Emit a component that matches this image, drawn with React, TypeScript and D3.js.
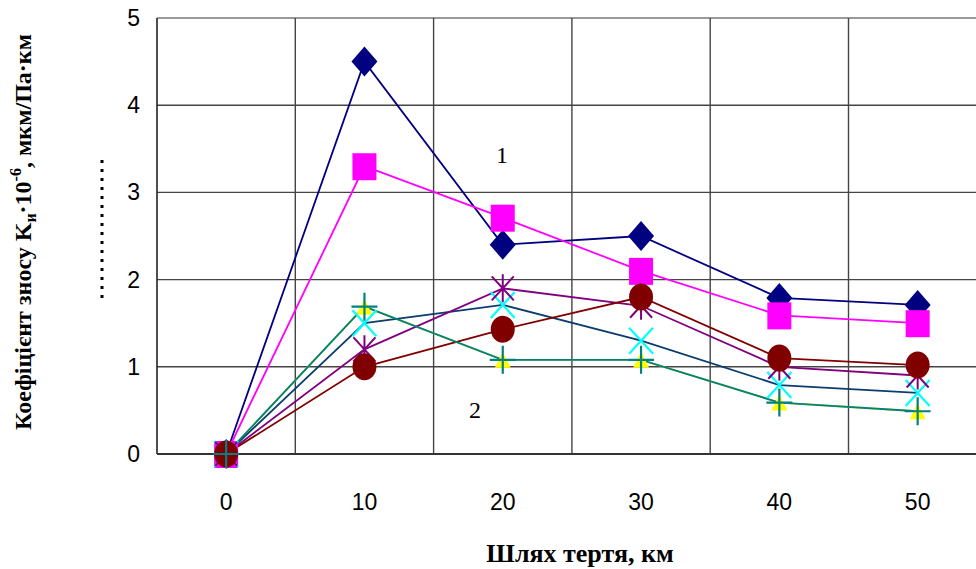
import React from "react";
import * as d3 from "d3";

const categories = ["0", "10", "20", "30", "40", "50"];
const yTicks = [0, 1, 2, 3, 4, 5];

const sDiamond = [0, 4.5, 2.4, 2.5, 1.79, 1.71];
const sSquare = [0, 3.3, 2.71, 2.1, 1.59, 1.5];
const sTriangle = [0, 1.69, 1.08, 1.08, 0.59, 0.49];
const sCross = [0, 1.5, 1.71, 1.3, 0.79, 0.7];
const sStar = [0, 1.2, 1.9, 1.7, 1.0, 0.9];
const sCircle = [0, 1.0, 1.43, 1.8, 1.1, 1.02];
const sPlus = [0, 1.69, 1.08, 1.08, 0.59, 0.49];

type Series = { values: number[]; line: string; marker: string; color: string };
const series: Series[] = [
  { values: sDiamond, line: "#000080", marker: "diamond", color: "#000080" },
  { values: sSquare, line: "#FF00FF", marker: "square", color: "#FF00FF" },
  { values: sTriangle, line: "#E8E800", marker: "triangle", color: "#FFFF00" },
  { values: sCross, line: "#0B3D6E", marker: "x", color: "#00FFFF" },
  { values: sStar, line: "#800080", marker: "star", color: "#800080" },
  { values: sCircle, line: "#800000", marker: "circle", color: "#800000" },
  { values: sPlus, line: "#008080", marker: "plus", color: "#008080" },
];

const W = 976;
const H = 569;
const left = 157;
const top = 18;
const bottom = 454;
const band = 138.3;
const right = left + band * categories.length;

function Marker({ type, cx, cy, color }: { type: string; cx: number; cy: number; color: string }) {
  switch (type) {
    case "diamond":
      return <path d={`M${cx},${cy - 15}L${cx + 13},${cy}L${cx},${cy + 15}L${cx - 13},${cy}Z`} fill={color} />;
    case "square":
      return <rect x={cx - 12} y={cy - 13} width={24} height={27} fill={color} />;
    case "triangle":
      return <path d={`M${cx},${cy - 8}L${cx + 8},${cy + 8}L${cx - 8},${cy + 8}Z`} fill={color} />;
    case "x":
      return (
        <path
          d={`M${cx - 12},${cy - 13}L${cx + 12},${cy + 13}M${cx + 12},${cy - 13}L${cx - 12},${cy + 13}`}
          stroke={color}
          strokeWidth={2.2}
        />
      );
    case "star":
      return (
        <path
          d={`M${cx - 11},${cy - 12}L${cx + 11},${cy + 12}M${cx + 11},${cy - 12}L${cx - 11},${cy + 12}M${cx},${cy - 14}L${cx},${cy + 14}`}
          stroke={color}
          strokeWidth={2}
        />
      );
    case "circle":
      return <ellipse cx={cx} cy={cy} rx={12} ry={13.5} fill={color} />;
    case "plus":
      return (
        <path
          d={`M${cx - 13},${cy}L${cx + 13},${cy}M${cx},${cy - 14}L${cx},${cy + 14}`}
          stroke={color}
          strokeWidth={2.2}
        />
      );
    default:
      return null;
  }
}

export default function App() {
  const x = d3.scaleBand<string>().domain(categories).range([left, right]).paddingInner(0).paddingOuter(0);
  const y = d3.scaleLinear().domain([0, 5]).range([bottom, top]);
  const cx = (c: string) => (x(c) as number) + x.bandwidth() / 2;
  const line = d3
    .line<number>()
    .x((_, i) => cx(categories[i]))
    .y((d) => y(d));

  const serif = "'Liberation Serif', 'Times New Roman', serif";
  const sans = "'Liberation Sans', Arial, sans-serif";

  return (
    <svg width={W} height={H} style={{ position: "absolute", left: 0, top: 0, background: "#fff" }}>
      {/* horizontal grid */}
      {yTicks.slice(1).map((t) => (
        <line
          key={"h" + t}
          x1={left}
          x2={right}
          y1={y(t)}
          y2={y(t)}
          stroke={t === 5 ? "#999" : "#444"}
          strokeWidth={t === 5 ? 2 : 1.4}
        />
      ))}
      {/* vertical grid */}
      {categories.slice(1).map((c) => (
        <line key={"v" + c} x1={x(c)} x2={x(c)} y1={top} y2={bottom} stroke="#444" strokeWidth={1.4} />
      ))}
      <line x1={left} x2={left} y1={top} y2={bottom} stroke="#222" strokeWidth={1.6} />
      <line x1={left} x2={right} y1={bottom} y2={bottom} stroke="#333" strokeWidth={2.2} />

      {/* y tick labels */}
      {yTicks.map((t) => (
        <text key={"yl" + t} x={140} y={y(t) + 8} textAnchor="end" fontFamily={sans} fontSize={23} fill="#000">
          {t}
        </text>
      ))}
      {/* x tick labels */}
      {categories.map((c) => (
        <text key={"xl" + c} x={cx(c)} y={510} textAnchor="middle" fontFamily={sans} fontSize={23} fill="#000">
          {c}
        </text>
      ))}

      {/* lines */}
      {series.map((s, i) => (
        <path key={"l" + i} d={line(s.values) || ""} fill="none" stroke={s.line} strokeWidth={1.8} />
      ))}
      {/* markers */}
      {series.map((s, i) =>
        s.values.map((v, j) => (
          <Marker key={"m" + i + "-" + j} type={s.marker} cx={cx(categories[j])} cy={y(v)} color={s.color} />
        ))
      )}

      {/* annotations */}
      <text x={502} y={163} textAnchor="middle" fontFamily={serif} fontSize={24}>
        1
      </text>
      <text x={475} y={418} textAnchor="middle" fontFamily={serif} fontSize={24}>
        2
      </text>

      {/* axis titles */}
      <text x={580} y={562} textAnchor="middle" fontFamily={serif} fontWeight="bold" fontSize={26}>
        Шлях тертя, км
      </text>
      <text
        transform="translate(31,232) rotate(-90)"
        textAnchor="middle"
        fontFamily={serif}
        fontWeight="bold"
        fontSize={24}
      >
        Коефіцієнт зносу K
        <tspan fontSize={16} dy={5}>и</tspan>
        <tspan dy={-5}>·10</tspan>
        <tspan fontSize={16} dy={-10}>-6</tspan>
        <tspan dy={10}>, мкм/Па·км</tspan>
      </text>
      <line x1={102} x2={102} y1={160} y2={298} stroke="#000" strokeWidth={3} strokeDasharray="3 6" />
    </svg>
  );
}
